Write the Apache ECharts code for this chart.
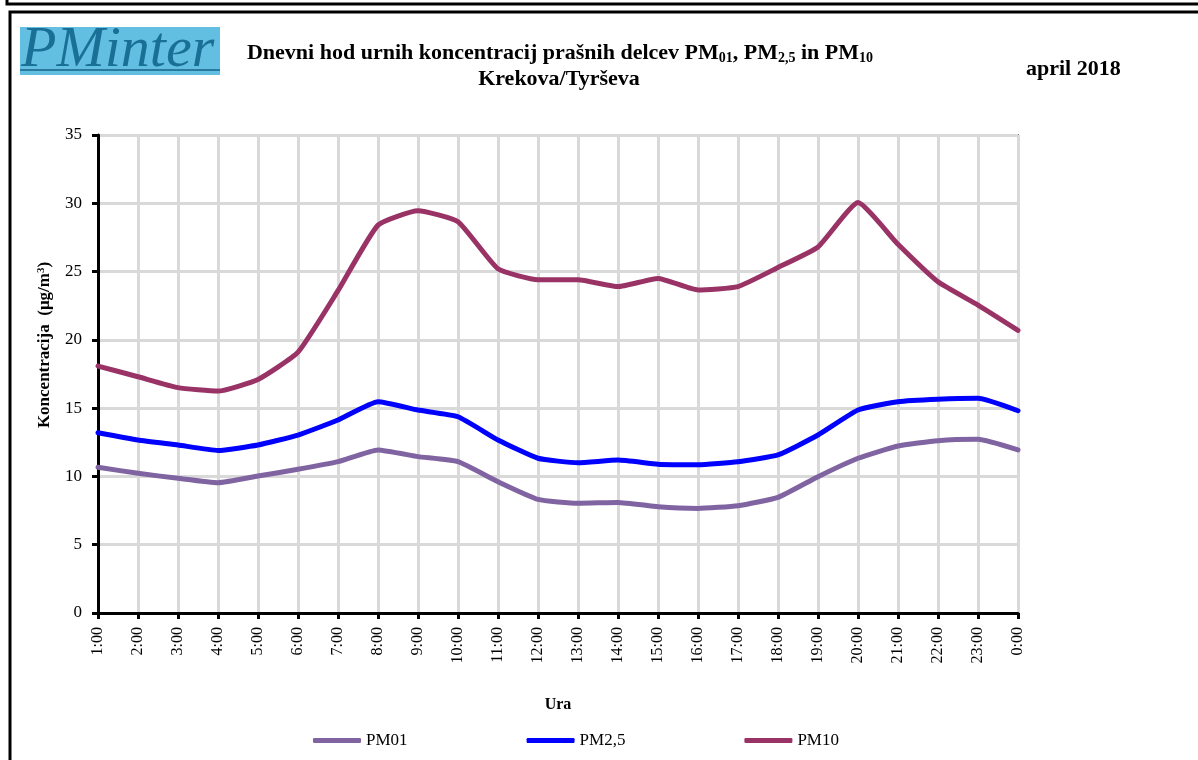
<!DOCTYPE html>
<html>
<head>
<meta charset="utf-8">
<title>PM koncentracije</title>
<script src="https://cdn.jsdelivr.net/npm/echarts@6/dist/echarts.min.js"></script>
<style>
    html, body { margin: 0; padding: 0; background: #fff; }
    #chart { width: 1198px; height: 760px; }
</style>
</head>
<body>
<div id="chart"></div>
<script>
var hours = ['1:00','2:00','3:00','4:00','5:00','6:00','7:00','8:00','9:00','10:00','11:00','12:00',
    '13:00','14:00','15:00','16:00','17:00','18:00','19:00','20:00','21:00','22:00','23:00','0:00'];
var pm01 = [10.67, 10.23, 9.86, 9.54, 10.03, 10.52, 11.08, 11.94, 11.45, 11.08, 9.61, 8.32,
    8.03, 8.1, 7.78, 7.66, 7.86, 8.47, 9.98, 11.33, 12.23, 12.62, 12.72, 11.94];
var pm25 = [13.2, 12.67, 12.3, 11.9, 12.3, 13.03, 14.13, 15.47, 14.86, 14.37, 12.67, 11.33,
    11.0, 11.2, 10.9, 10.86, 11.08, 11.57, 13.03, 14.86, 15.47, 15.65, 15.72, 14.81];
var pm10 = [18.08, 17.3, 16.5, 16.25, 17.1, 19.1, 23.6, 28.4, 29.45, 28.65, 25.2, 24.4,
    24.4, 23.9, 24.5, 23.65, 23.9, 25.3, 26.8, 30.05, 27.0, 24.25, 22.55, 20.7];
var seriesNames = ['PM01', 'PM2,5', 'PM10'];

var serif = '"Liberation Serif", "Times New Roman", serif';
var chart = echarts.init(document.getElementById('chart'));

var lineSeries = function(name, data, color) {
    return {
        name: name,
        type: 'line',
        data: data,
        smooth: 0.15,
        symbol: 'none',
        lineStyle: { color: color, width: 5, cap: 'round', join: 'round' },
        itemStyle: { color: color }
    };
};

var option = {
    backgroundColor: '#fff',
    animation: false,
    textStyle: { fontFamily: serif },
    title: [{
        text: 'Dnevni hod urnih koncentracij prašnih delcev PM{s|01}, PM{s|2,5} in PM{s|10}',
        left: 555, top: 36, textAlign: 'center',
        textStyle: {
            fontFamily: serif, fontSize: 22, fontWeight: 'bold', color: '#000',
            rich: { s: { fontFamily: serif, fontSize: 14, fontWeight: 'bold', color: '#000', verticalAlign: 'bottom', padding: [10, 0, 0, 0] } }
        }
    }, {
        text: 'Krekova/Tyrševa',
        left: 554, top: 63, textAlign: 'center',
        textStyle: { fontFamily: serif, fontSize: 22, fontWeight: 'bold', color: '#000' }
    }, {
        text: 'april 2018',
        left: 1021, top: 53,
        textStyle: { fontFamily: serif, fontSize: 22, fontWeight: 'bold', color: '#000' }
    }],
    legend: {
        data: seriesNames,
        bottom: 6,
        left: 308,
        itemWidth: 48,
        itemHeight: 5,
        itemGap: 119,
        icon: 'roundRect',
        textStyle: { fontFamily: serif, fontSize: 17, color: '#000' }
    },
    grid: {
        left: 98, right: 180, top: 135, bottom: 147,
        show: true, borderColor: '#888', borderWidth: 2
    },
    xAxis: {
        type: 'category',
        data: hours,
        boundaryGap: false,
        name: 'Ura',
        nameLocation: 'middle',
        nameGap: 84,
        nameTextStyle: { fontFamily: serif, fontSize: 16, fontWeight: 'bold', color: '#000' },
        axisLine: { lineStyle: { color: '#000', width: 3 } },
        axisTick: { show: true, length: 6, lineStyle: { color: '#000', width: 3 } },
        axisLabel: { rotate: 90, fontFamily: serif, fontSize: 16, color: '#000', margin: 14, interval: 0 },
        splitLine: { show: true, lineStyle: { color: '#d9d9d9', width: 3 } }
    },
    yAxis: {
        type: 'value',
        min: 0, max: 35, interval: 5,
        axisLine: { show: true, lineStyle: { color: '#000', width: 3 } },
        axisTick: { show: true, length: 6, lineStyle: { color: '#000', width: 3 } },
        axisLabel: { fontFamily: serif, fontSize: 17, color: '#000', margin: 16 },
        splitLine: { show: true, lineStyle: { color: '#d9d9d9', width: 3 } }
    },
    graphic: [
        // okvir strani
        { type: 'polyline', shape: { points: [[7, 0], [7, 4], [1198, 4]] }, style: { stroke: '#000', lineWidth: 3, fill: null } },
        { type: 'polyline', shape: { points: [[10, 760], [10, 12], [1198, 12]] }, style: { stroke: '#000', lineWidth: 3, fill: null } },
        // logo
        { type: 'rect', shape: { x: 20, y: 27, width: 200, height: 48 }, style: { fill: '#63bfe2' } },
        { type: 'rect', shape: { x: 20, y: 69, width: 200, height: 2 }, style: { fill: '#2a7aa0' } },
        { type: 'text', style: { x: 21, y: 51, text: 'PMinter', fill: '#1a6f97', verticalAlign: 'middle',
            font: 'italic 58px "Liberation Serif", serif' } },
        // naslov osi y
        { type: 'text', x: 45, y: 345, rotation: Math.PI / 2,
            style: { text: 'Koncentracija  (μg/m{u|3})', align: 'center', verticalAlign: 'middle',
                font: 'bold 17px "Liberation Serif", serif', fill: '#000',
                rich: { u: { fontFamily: serif, fontSize: 11, fontWeight: 'bold', fill: '#000', verticalAlign: 'top', padding: [0, 0, 8, 0] } } } }
    ],
    series: [
        lineSeries(seriesNames[0], pm01, '#8064a2'),
        lineSeries(seriesNames[1], pm25, '#0000ff'),
        lineSeries(seriesNames[2], pm10, '#993366')
    ]
};
chart.setOption(option, true);
</script>
</body>
</html>
